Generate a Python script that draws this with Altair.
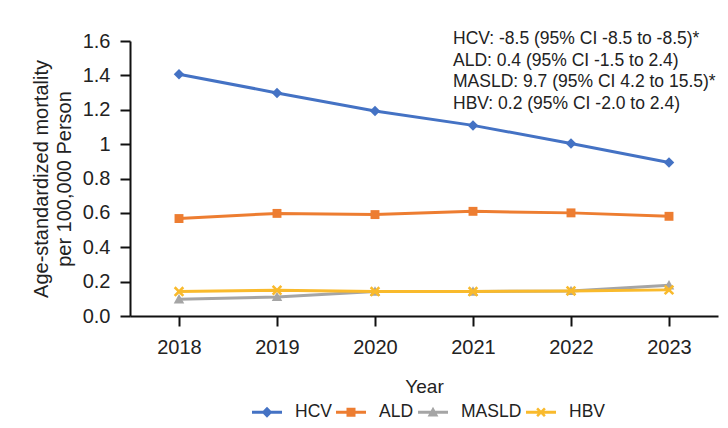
import altair as alt
import pandas as pd

# ---- data ----
years = [2018, 2019, 2020, 2021, 2022, 2023]
series_names = ["HCV", "ALD", "MASLD", "HBV"]
hcv = [1.407, 1.298, 1.193, 1.109, 1.004, 0.893]
ald = [0.567, 0.597, 0.590, 0.609, 0.600, 0.580]
masld = [0.097, 0.111, 0.142, 0.142, 0.146, 0.179]
hbv = [0.142, 0.150, 0.142, 0.142, 0.146, 0.152]
series_colors = ["#4472C4", "#ED7D31", "#A5A5A5", "#F9BA2C"]
y_ticks = [0, 0.2, 0.4, 0.6, 0.8, 1.0, 1.2, 1.4, 1.6]
annotation_lines = [
    "HCV: -8.5 (95% CI -8.5 to -8.5)*",
    "ALD: 0.4 (95% CI -1.5 to 2.4)",
    "MASLD: 9.7 (95% CI 4.2 to 15.5)*",
    "HBV: 0.2 (95% CI -2.0 to 2.4)",
]

# marker shapes (unit-square SVG paths)
marker_paths = [
    "M0,-1L1,0L0,1L-1,0Z",
    "M-0.85,-0.85H0.85V0.85H-0.85Z",
    "M0,-1L1,0.8H-1Z",
    "M0,-0.35L0.65,-1L1,-0.65L0.35,0L1,0.65L0.65,1L0,0.35L-0.65,1L-1,0.65L-0.35,0L-1,-0.65L-0.65,-1Z",
]
# legend symbols: a short filled bar (the line) plus the marker
BAR = "M-1,-0.1H1V0.1H-1Z"
legend_paths = [
    BAR + "M0,-0.36L0.36,0L0,0.36L-0.36,0Z",
    BAR + "M-0.3,-0.3H0.3V0.3H-0.3Z",
    BAR + "M0,-0.36L0.36,0.28H-0.36Z",
    BAR + "M0,-0.12L0.2,-0.32L0.32,-0.2L0.12,0L0.32,0.2L0.2,0.32L0,0.12L-0.2,0.32L-0.32,0.2L-0.12,0L-0.32,-0.2L-0.2,-0.32Z",
]

rows = []
for name, vals in zip(series_names, [hcv, ald, masld, hbv]):
    for yr, v in zip(years, vals):
        rows.append({"Year": str(yr), "Series": name, "Value": v})
df = pd.DataFrame(rows)

FONT = "Liberation Sans"

x_enc = alt.X(
    "Year:O",
    scale=alt.Scale(type="point", padding=0.5),
    axis=alt.Axis(
        title="Year", labelAngle=0, labelFontSize=20, titleFontSize=19,
        labelPadding=11, titlePadding=20, tickSize=10,
    ),
)
y_enc = alt.Y(
    "Value:Q",
    scale=alt.Scale(domain=[0, 1.6], nice=False, zero=True),
    axis=alt.Axis(
        title=["Age-standardized mortality", "per 100,000 Person"],
        values=y_ticks,
        labelExpr="datum.value == 1 ? '1' : format(datum.value, '.1f')",
        labelFontSize=20, titleFontSize=20, titleLineHeight=23,
        labelPadding=10, titlePadding=8, tickSize=10,
    ),
)

base = alt.Chart(df)

series_layers = []
for name, col, path in zip(series_names, series_colors, marker_paths):
    sub = base.transform_filter(alt.datum.Series == name)
    series_layers.append(sub.mark_line(strokeWidth=3, color=col).encode(x=x_enc, y=y_enc))
    series_layers.append(
        sub.mark_point(filled=True, shape=path, size=110, opacity=1, color=col)
        .encode(x=x_enc, y=y_enc)
    )

leg = alt.Legend(
    title=None, orient="none", direction="horizontal",
    legendX=122, legendY=356, labelFontSize=17.5, labelFont=FONT,
    labelColor="#222222", symbolSize=900, symbolStrokeWidth=0,
    symbolOpacity=1, labelOffset=13, columnPadding=4, padding=0,
)

legend_layer = base.mark_point(filled=True, size=900, opacity=0).encode(
    x=x_enc, y=y_enc,
    color=alt.Color("Series:N", scale=alt.Scale(domain=series_names, range=series_colors),
                    legend=leg, sort=series_names),
    shape=alt.Shape("Series:N", scale=alt.Scale(domain=series_names, range=legend_paths),
                    legend=leg, sort=series_names),
)

annotation = alt.Chart(pd.DataFrame({"k": [0]})).mark_text(
    align="left", baseline="alphabetic", fontSize=17.5, lineHeight=21.7,
    font=FONT, color="#222222",
).encode(
    x=alt.value(323), y=alt.value(3), text=alt.value(annotation_lines),
)

chart = (
    alt.layer(*series_layers, legend_layer, annotation)
    .properties(
        width=588, height=275,
        autosize=alt.AutoSizeParams(type="none"),
        padding={"left": 122, "top": 33, "right": 2, "bottom": 104},
    )
    .configure_view(stroke=None)
    .configure_axis(
        grid=False, domainColor="#111111", domainWidth=2, tickColor="#111111",
        tickWidth=2, labelColor="#222222", titleColor="#222222",
        labelFont=FONT, titleFont=FONT, titleFontWeight="normal",
    )
)

chart.save("out.html", embed_options={"renderer": "svg", "actions": False})
